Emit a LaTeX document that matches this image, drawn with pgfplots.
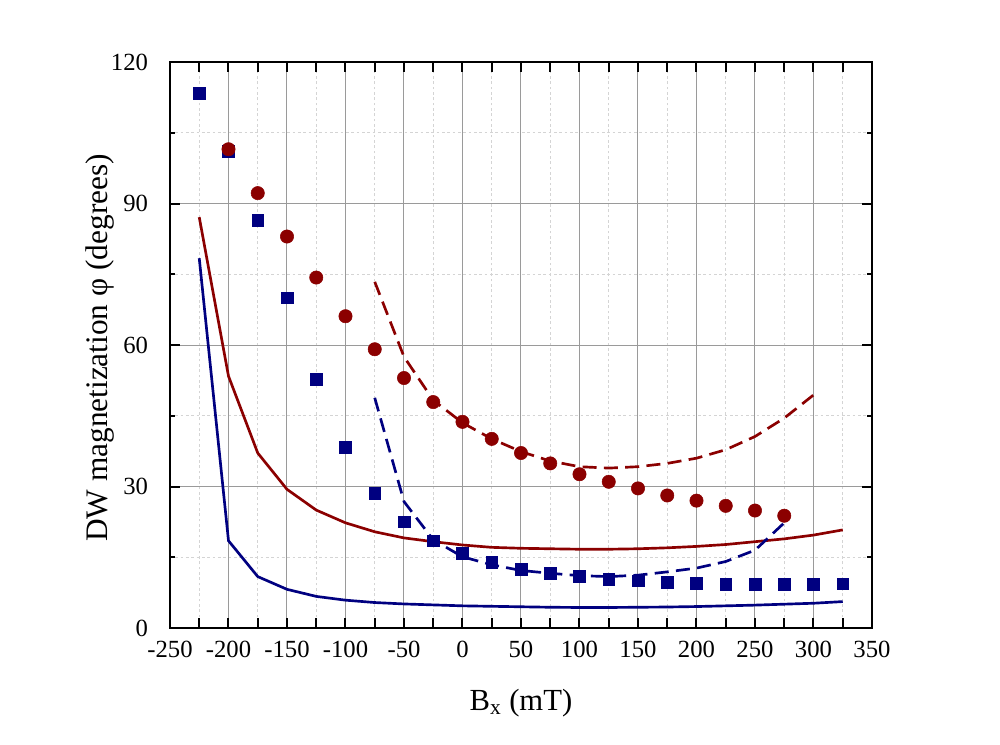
\documentclass[border=0pt]{standalone}
\usepackage{pgfplots}
\pgfplotsset{compat=1.18}
\usepackage{fontspec}
\setmainfont{Liberation Serif}
\definecolor{dred}{HTML}{8B0000}
\definecolor{dblue}{HTML}{000080}
\definecolor{majg}{HTML}{9A9A9A}
\definecolor{ming}{HTML}{D4D4D4}
\begin{document}
\begin{tikzpicture}
\path[use as bounding box] (-127.5pt,-87pt) rectangle (622.5pt,471pt);
\begin{axis}[
  at={(0,0)}, anchor=south west,
  width=526.5pt, height=424.5pt, scale only axis,
  xmin=-250, xmax=350, ymin=0, ymax=120,
  xtick={-250,-200,...,350},
  ytick={0,30,...,120},
  minor y tick num=1,
  extra x ticks={-225,-175,-125,-75,-25,25,75,125,175,225,275,325},
  extra x tick labels={},
  extra x tick style={grid=major, major grid style={ming, dash pattern=on 2pt off 2pt, line width=0.6pt}},
  grid=both,
  major grid style={majg, line width=0.75pt},
  minor grid style={ming, dash pattern=on 2pt off 2pt, line width=0.6pt},
  tick align=inside,
  major tick length=7.5pt,
  minor tick length=3.75pt,
  every tick/.style={black, line width=1.5pt},
  axis line style={black, line width=1.5pt},
  /pgf/number format/assume math mode=true,
  tick label style={font=\fontsize{18.5}{20}\selectfont},
  xticklabel style={yshift=-6pt},
  yticklabel style={xshift=-13pt},
  clip=false,
]
% red solid
\addplot[dred, line width=2pt] coordinates {
(-225,87.1) (-200,53.4) (-175,37.1) (-150,29.4) (-125,25.0) (-100,22.3)
(-75,20.4) (-50,19.1) (-25,18.3) (0,17.6) (25,17.1) (50,16.9) (75,16.8)
(100,16.7) (125,16.7) (150,16.8) (175,17.0) (200,17.3) (225,17.7)
(250,18.3) (275,18.9) (300,19.7) (325,20.8)};
% blue solid
\addplot[dblue, line width=2pt] coordinates {
(-225,78.4) (-200,18.5) (-175,10.9) (-150,8.2) (-125,6.7) (-100,5.9)
(-75,5.4) (-50,5.1) (-25,4.9) (0,4.7) (25,4.6) (50,4.5) (75,4.4)
(100,4.35) (125,4.35) (150,4.4) (175,4.45) (200,4.55) (225,4.7)
(250,4.85) (275,5.05) (300,5.25) (325,5.6)};
% red dashed
\addplot[dred, line width=2pt, dash pattern=on 10.5pt off 5.5pt] coordinates {
(-75,73.4) (-50,57.5) (-25,48.3) (0,43.5) (25,40.1) (50,37.4) (75,35.4)
(100,34.2) (125,33.9) (150,34.2) (175,34.9) (200,36.0) (225,37.8)
(250,40.6) (275,44.5) (300,49.4)};
% blue dashed
\addplot[dblue, line width=2pt, dash pattern=on 10.5pt off 5.5pt] coordinates {
(-75,48.8) (-50,26.8) (-25,18.7) (0,15.1) (25,13.4) (50,12.2) (75,11.6)
(100,11.1) (125,10.9) (150,11.2) (175,11.9) (200,12.7) (225,14.1)
(250,16.5) (275,22.3)};
% blue squares
\addplot[only marks, mark=square*, mark size=4.4pt, dblue, mark options={draw=dblue, fill=dblue}] coordinates {
(-225,113.4) (-200,101.0) (-175,86.5) (-150,70.0) (-125,52.8) (-100,38.3)
(-75,28.6) (-50,22.5) (-25,18.5) (0,15.9) (25,14.0) (50,12.5) (75,11.6)
(100,10.9) (125,10.3) (150,10.0) (175,9.7) (200,9.5) (225,9.3)
(250,9.3) (275,9.3) (300,9.35) (325,9.4)};
% red circles
\addplot[only marks, mark=*, mark size=5pt, dred, mark options={draw=dred, fill=dred}] coordinates {
(-200,101.5) (-175,92.2) (-150,83.0) (-125,74.3) (-100,66.1) (-75,59.1)
(-50,53.0) (-25,47.9) (0,43.7) (25,40.1) (50,37.1) (75,34.9) (100,32.6)
(125,31.0) (150,29.6) (175,28.1) (200,27.0) (225,25.9) (250,24.9) (275,23.8)};
\end{axis}
\node[anchor=base, font=\fontsize{23}{26}\selectfont] at (263.25pt,-61.5pt) {B\textsubscript{x} (mT)};
\node[anchor=center, rotate=90, font=\fontsize{23.5}{26}\selectfont] at (-52.5pt,210pt) {DW magnetization φ (degrees)};
\end{tikzpicture}
\end{document}
